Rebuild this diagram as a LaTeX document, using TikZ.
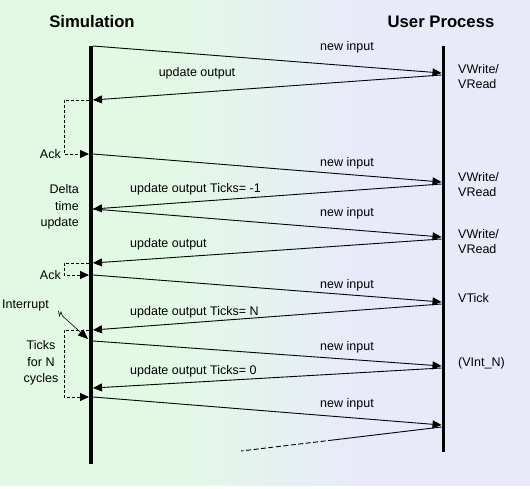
\documentclass[tikz,border=0pt]{standalone}
\usepackage{fontspec}
\setmainfont{Liberation Sans}
\usetikzlibrary{arrows.meta}
\definecolor{bggreen}{RGB}{226,250,228}
\definecolor{bglav}{RGB}{232,234,249}
\begin{document}
\begin{tikzpicture}[x=1pt,y=-1pt,
  lbl/.style={font=\fontsize{12.5}{15}\selectfont, inner sep=0pt},
  ttl/.style={font=\fontsize{16.7}{19}\selectfont\bfseries, inner sep=0pt},
  msg/.style={line width=0.9pt, -{Triangle[length=9pt,width=8pt]}},
  ackline/.style={line width=0.8pt, dash pattern=on 3pt off 2pt, -{Triangle[length=9pt,width=8pt]}},
  lifesim/.style={line width=4pt},
  lifeusr/.style={line width=3pt}]
% background
\useasboundingbox (0,0) rectangle (530,489);
\fill[white] (0,0) rectangle (530,489);
\fill[bggreen] (0,0) rectangle (162,486);
\foreach \k in {0,...,39}{
  \pgfmathsetmacro{\pct}{100*(\k+0.5)/40}
  \fill[bglav!\pct!bggreen] ({160+5*\k},0) rectangle ({160+5*\k+6},486);
}
\fill[bglav] (359,0) rectangle (530,486);
% titles
\node[ttl] (tsim) at (92,22) {Simulation};
\node[ttl] (tusr) at (441,22) {User Process};
% lifelines
\coordinate (simtop) at (91,46);
\coordinate (simbot) at (91,464);
\coordinate (usrtop) at (443,46);
\coordinate (usrbot) at (443,452);
\draw[lifesim] (simtop) -- (simbot);
\draw[lifeusr] (usrtop) -- (usrbot);
% message end points
\foreach \n/\y in {a/46,b/100,c/154,d/209,e/263,f/275,g/330,h/341,i/388,j/397}
  \coordinate (s\n) at (93,\y);
\foreach \n/\y in {a/73,b/75,c/182,d/184,e/237,f/239,g/302,h/304,i/366,j/368,k/425,l/427}
  \coordinate (u\n) at (441.5,\y);
\foreach \n/\y in {b/100,c/154,e/263,f/275,g/330,j/397}
  \coordinate (w\n) at (89,\y);
% messages
\draw[msg] (sa) -- (ua);
\draw[msg] (ub) -- (sb);
\draw[msg] (sc) -- (uc);
\draw[msg] (ud) -- (sd);
\draw[msg] (sd) -- (ue);
\draw[msg] (uf) -- (se);
\draw[msg] (sf) -- (ug);
\draw[msg] (uh) -- (sg);
\draw[msg] (sh) -- (ui);
\draw[msg] (uj) -- (si);
\draw[msg] (sj) -- (uk);
\coordinate (mid) at (333,440);
\coordinate (lastend) at (241,451);
\draw[line width=0.9pt] (ul) -- (mid);
\draw[line width=0.9pt, dash pattern=on 5pt off 2.5pt] (mid) -- (lastend);
% ack loops
\coordinate (ab1) at (64,100); \coordinate (ab2) at (64,154);
\coordinate (ae1) at (64,263); \coordinate (ae2) at (64,275);
\coordinate (ag1) at (64,330); \coordinate (ag2) at (64,397);
\draw[ackline] (wb) -- (ab1) -- (ab2) -- (wc);
\draw[ackline] (we) -- (ae1) -- (ae2) -- (wf);
\draw[ackline] (wg) -- (ag1) -- (ag2) -- (wj);
% interrupt
\coordinate (i0) at (58.5,311);
\coordinate (i1) at (59.5,316);
\coordinate (i2) at (61,312);
\coordinate (i3) at (62.5,316);
\coordinate (itip) at (88,339);
\draw[line width=0.6pt] (i0) -- (i1) -- (i2) -- (i3);
\draw[line width=0.6pt, -{Triangle[length=10pt,width=8pt]}] (i3) -- (itip);
% labels on messages
\node[lbl] (l1) at (347,47) {new input};
\node[lbl] (l2) at (197,73) {update output};
\node[lbl] (l3) at (347,163) {new input};
\node[lbl,anchor=west] (l4) at (130,189) {update output Ticks= -1};
\node[lbl] (l5) at (347,213) {new input};
\node[lbl,anchor=west] (l6) at (130,244) {update output};
\node[lbl] (l7) at (347,285) {new input};
\node[lbl,anchor=west] (l8) at (130,312) {update output Ticks= N};
\node[lbl] (l9) at (347,347) {new input};
\node[lbl,anchor=west] (l10) at (130,371) {update output Ticks= 0};
\node[lbl] (l11) at (347,404) {new input};
% right labels
\node[lbl,anchor=west,align=left] (r1) at (458,76.5) {VWrite/\\VRead};
\node[lbl,anchor=west,align=left] (r2) at (458,184.5) {VWrite/\\VRead};
\node[lbl,anchor=west,align=left] (r3) at (458,242) {VWrite/\\VRead};
\node[lbl,anchor=west] (r4) at (458,298) {VTick};
\node[lbl,anchor=west] (r5) at (458,363) {(VInt\_N)};
% left labels
\node[lbl,anchor=east] (k1) at (61,154) {Ack};
\node[lbl,anchor=east] (k2) at (61,275) {Ack};
\node[lbl,anchor=east,align=right,font=\fontsize{12.5}{16.5}\selectfont] (dt) at (79,207) {Delta\\time\\update};
\node[lbl,align=center,font=\fontsize{12.5}{16.5}\selectfont] (tk) at (41,363) {Ticks\\for N\\cycles};
\node[lbl,anchor=west] (intr) at (2,305) {Interrupt};
\end{tikzpicture}
\end{document}
